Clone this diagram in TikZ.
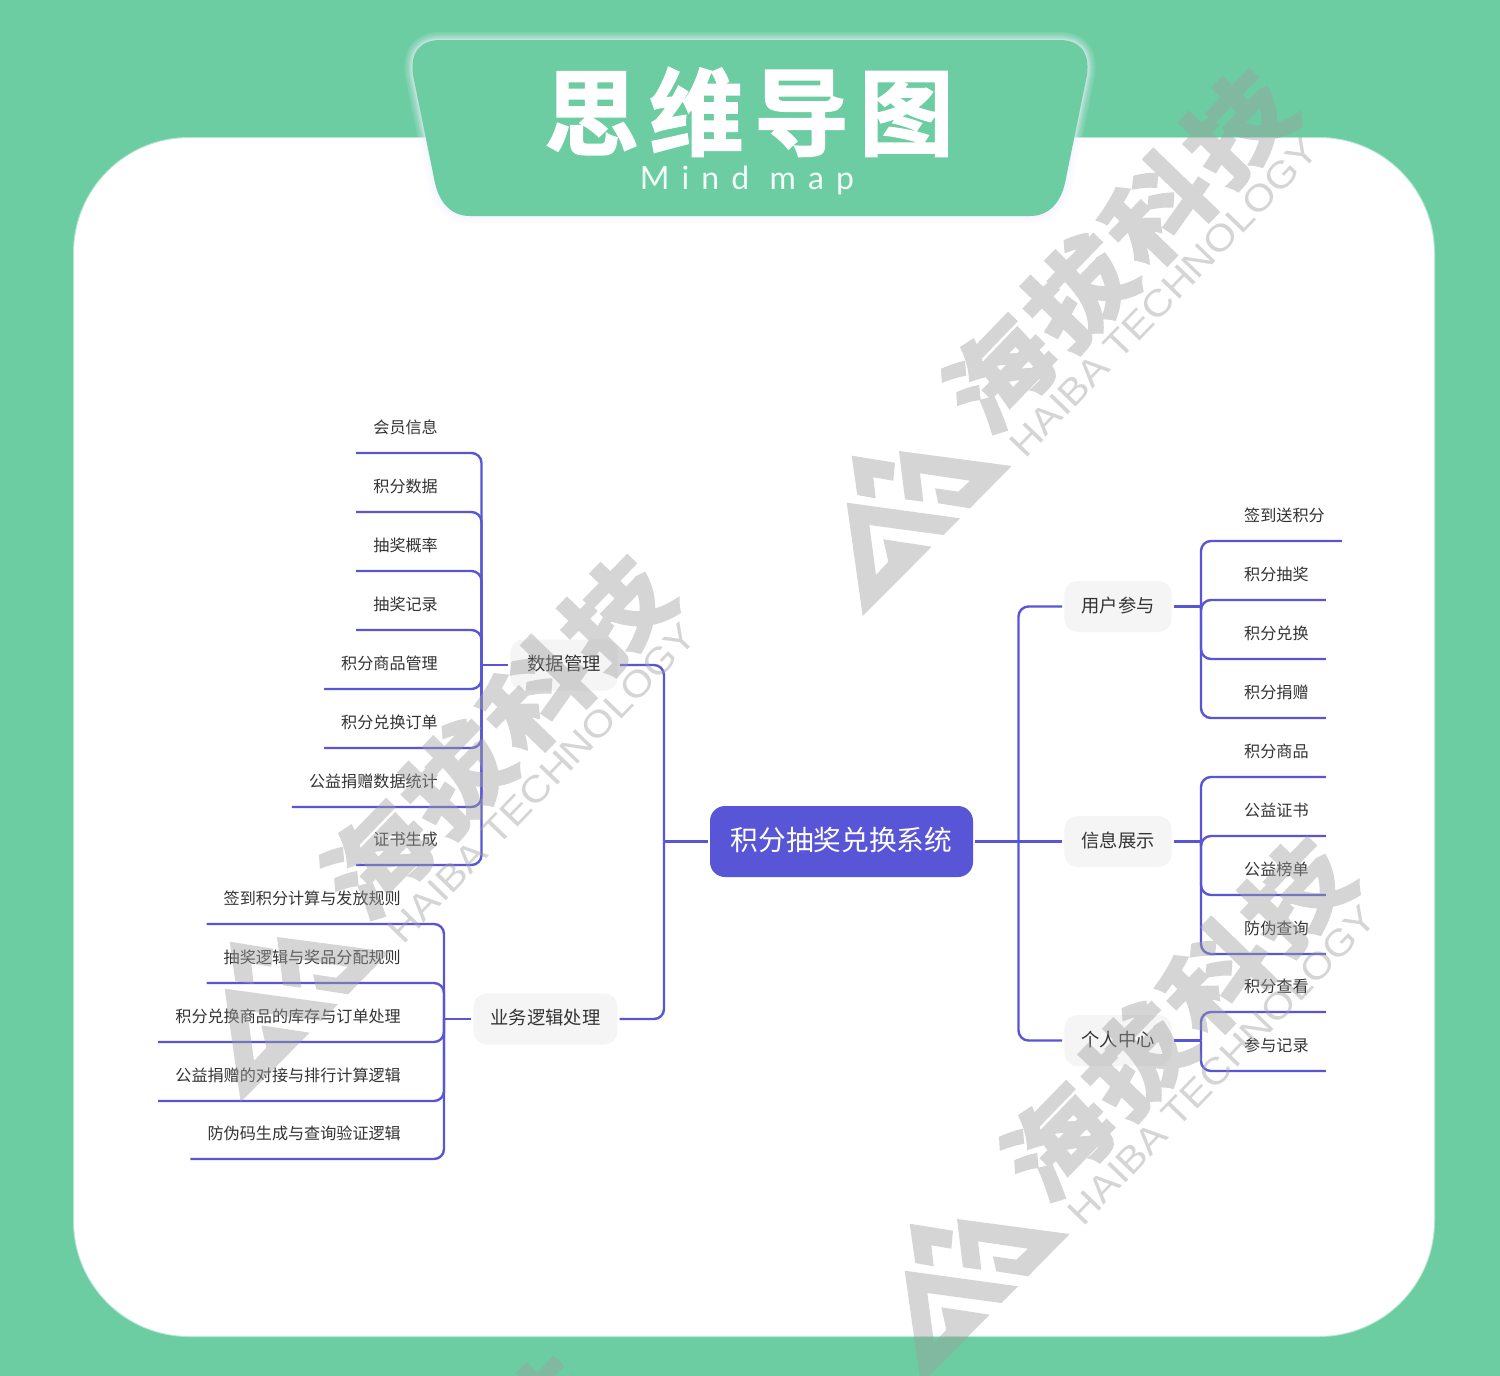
\documentclass[tikz,border=0pt]{standalone}
\usepackage{fontspec}
\setmainfont{Noto Sans CJK SC}
\newfontfamily\titlefont[FakeBold=1.8]{Noto Sans CJK SC Bold}
\newfontfamily\wmfont[FakeBold=3.5]{Noto Sans CJK SC Bold}
\newfontfamily\wmlatin{Liberation Sans}
\newfontfamily\enfont[LetterSpace=38]{Lato}
\definecolor{bggreen}{HTML}{6CCDA3}
\definecolor{linkc}{HTML}{5856D6}
\definecolor{subfill}{HTML}{F5F5F5}
\definecolor{inkc}{HTML}{333333}
\definecolor{wmgray}{HTML}{9E9E9E}
\tikzset{
  link/.style={draw=linkc,line width=2.4pt,rounded corners=10pt,line cap=butt},
  stub/.style={draw=linkc,line width=2.4pt},
  mainbox/.style={fill=linkc,rounded corners=15pt,text=white,minimum width=263pt,minimum height=71pt,inner sep=0pt,text height=20pt,text depth=3pt,font=\fontsize{27.7}{30}\selectfont},
  subbox/.style={fill=subfill,rounded corners=13pt,text=inkc,minimum height=51pt,inner xsep=17pt,inner ysep=0pt,text height=14pt,text depth=2.1pt,font=\fontsize{18.3}{20}\selectfont},
  leaf/.style={text=inkc,minimum height=52pt,inner xsep=17pt,inner ysep=0pt,text height=16.2pt,text depth=2.2pt,font=\fontsize{16.1}{18}\selectfont},
  wmfill/.style={fill=wmgray,draw=none},
  wmtext/.style={text=wmgray,inner sep=0pt,rotate=46},
}
\newcommand{\wmark}[3]{%
  \begin{scope}[shift={(#2,#3)}]
    \fill[wmfill] (851.7,455.7)--(895,462.7)--(893.3,480.7)--(873.3,477.3)--(875.7,498.3)--(857.3,495)--cycle;
    \fill[wmfill] (899,451)--(1011.7,466)--(970,508.3)--(938.3,503.3)--(935,488.3)--(958.3,491.7)--(970,480.7)--(920,473.3)--(923.3,501.7)--(905,499.3)--cycle;
    \fill[wmfill] (846.7,502.7)--(960,518.3)--(943.3,535)--(869.3,525)--(876,575)--(888.3,561.7)--(883.3,539.3)--(931.7,546.7)--(862.7,616)--cycle;
    \node[wmtext,font=\wmfont\fontsize{104}{104}\selectfont] (#1cn) at (1119,250) {\scalebox{1.04}[0.92]{海\hspace{6pt}拔\hspace{6pt}科\hspace{6pt}技}};
    \node[wmtext,font=\wmlatin\fontsize{37}{37}\selectfont] (#1en) at (1164,297) {\scalebox{1.12}[1]{HAIBA TECHNOLOGY}};
  \end{scope}}
\begin{document}
\begin{tikzpicture}[x=1pt,y=-1pt]
\useasboundingbox (0,0) rectangle (1500,1376);
\clip (0,0) rectangle (1500,1376);
\fill[bggreen] (0,0) rectangle (1500,1376);
\draw[white,line width=2pt,draw opacity=0.5,rounded corners=115pt] (74,138) rectangle (1434,1336);
\fill[white,rounded corners=115pt] (74,138) rectangle (1434,1336);
% header tab with soft glow
\def\tabpath{(441,40) -- (1059,40) .. controls (1080,40) and (1090,52) .. (1087,75) -- (1065,183) .. controls (1060,205) and (1047,216) .. (1030,216) -- (470,216) .. controls (453,216) and (440,205) .. (435,183) -- (413,75) .. controls (410,52) and (420,40) .. (441,40) -- cycle}
\foreach \w/\o in {16/0.12,12/0.14,8/0.18,5/0.22,2.5/0.3}{
  \draw[draw=blue!6!white,line width=\w pt,draw opacity=\o] \tabpath;
}
\fill[bggreen] \tabpath;
\node[text=white,inner sep=0pt,font=\titlefont\fontsize{94.5}{95}\selectfont] (title) at (749,112) {思\hspace{10.5pt}维\hspace{10.5pt}导\hspace{10.5pt}图};
\node[text=white,text opacity=0.92,inner sep=0pt,font=\enfont\fontsize{32}{32}\selectfont] (subtitle) at (747,180) {Mind map};
% nodes
\node[mainbox] (root) at (841.5,841.5) {积分抽奖兑换系统};
\node[subbox] (data) at (564,665) {数据管理};
\node[subbox] (logic) at (545.5,1019) {业务逻辑处理};
\node[subbox] (user) at (1118,606.5) {用户参与};
\node[subbox] (info) at (1118,841.5) {信息展示};
\node[subbox] (self) at (1118,1040.5) {个人中心};
% junctions
\coordinate (jroot-l) at (664,841.5);
\coordinate (jroot-r) at (1018.5,841.5);
\coordinate (jdata) at (481.5,665);
\coordinate (jlogic) at (444,1019);
\coordinate (juser) at (1201,606.5);
\coordinate (jinfo) at (1201,841.5);
\coordinate (jself) at (1201,1040.5);
% left leaves
\foreach \n/\y/\t in {a1/453/会员信息,a2/512/积分数据,a3/571/抽奖概率,a4/630/抽奖记录,a5/689/积分商品管理,a6/748/积分兑换订单,a7/807/公益捐赠数据统计,a8/865/证书生成}{
  \node[leaf,anchor=south east] (\n) at (455,\y) {\t};
  \draw[link] (jdata) |- (\n.south west);
}
\foreach \n/\y/\t in {b1/924/签到积分计算与发放规则,b2/983/抽奖逻辑与奖品分配规则,b3/1042/积分兑换商品的库存与订单处理,b4/1101/公益捐赠的对接与排行计算逻辑,b5/1159/防伪码生成与查询验证逻辑}{
  \node[leaf,anchor=south east] (\n) at (418,\y) {\t};
  \draw[link] (jlogic) |- (\n.south west);
}
% right leaves
\foreach \n/\j/\y/\t in {c1/juser/541/签到送积分,c2/juser/600/积分抽奖,c3/juser/659/积分兑换,c4/juser/718/积分捐赠,d1/jinfo/777/积分商品,d2/jinfo/836/公益证书,d3/jinfo/895/公益榜单,d4/jinfo/954/防伪查询,e1/jself/1012/积分查看,e2/jself/1071/参与记录}{
  \node[leaf,anchor=south west] (\n) at (1227,\y) {\t};
  \draw[link] (\j) |- (\n.south east);
}
% stems
\draw[stub,shorten <=2pt] (data.west) -- (jdata);
\draw[stub,shorten <=2pt] (logic.west) -- (jlogic);
\draw[stub,shorten <=2pt] (user.east) -- (juser);
\draw[stub,shorten <=2pt] (info.east) -- (jinfo);
\draw[stub,shorten <=2pt] (self.east) -- (jself);
\draw[stub,shorten <=2pt] (root.west) -- (jroot-l);
\draw[stub,shorten <=2pt] (root.east) -- (jroot-r);
\draw[link,shorten >=2pt] (jroot-l) |- (data.east);
\draw[link,shorten >=2pt] (jroot-l) |- (logic.east);
\draw[link,shorten >=2pt] (jroot-r) |- (user.west);
\draw[stub,shorten >=2pt] (jroot-r) -- (info.west);
\draw[link,shorten >=2pt] (jroot-r) |- (self.west);
% watermarks
\begin{scope}[transparency group,opacity=0.43]
\wmark{wa}{0}{0}
\wmark{wb}{-622}{486}
\wmark{wc}{58}{768}
\node[wmtext,font=\wmfont\fontsize{104}{104}\selectfont] (wdtip) at (546,1415) {技};
\end{scope}
\end{tikzpicture}
\end{document}
